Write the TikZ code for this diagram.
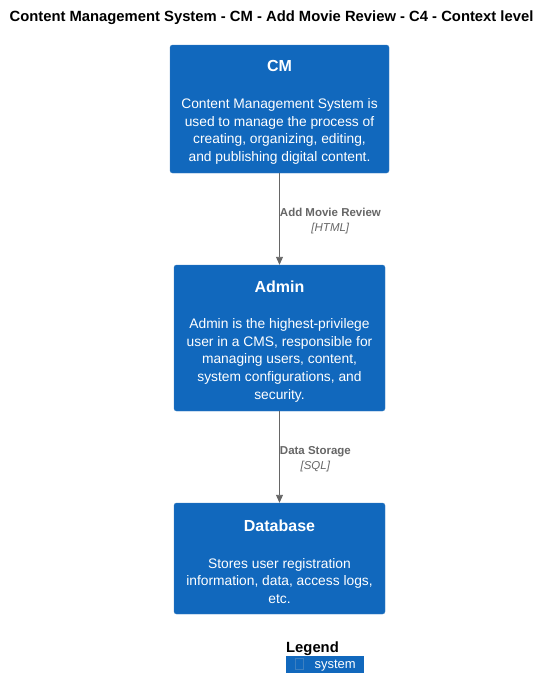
\documentclass[tikz,border=0pt]{standalone}
\usepackage{fontspec}
\setmainfont{Liberation Sans}
\usepackage{xcolor}
\usetikzlibrary{arrows.meta,positioning}

\definecolor{sysblue}{HTML}{1168BD}
\definecolor{sysborder}{HTML}{3C7FC0}
\definecolor{relgray}{HTML}{666666}

\tikzset{
  sysbox/.style={draw=sysborder, fill=sysblue, rounded corners=2.5pt, text=white,
    align=center, inner sep=0pt, font=\fontsize{13.8}{17.6}\selectfont},
  rel/.style={draw=relgray, line width=0.9pt, -{Triangle[width=7pt,length=8pt]}},
  rellabel/.style={text=relgray, align=center, anchor=west, inner sep=0pt, yshift=-2pt,
    font=\fontsize{11.5}{15}\selectfont},
}

\newcommand{\boxtitle}[1]{{\fontsize{16}{20}\selectfont\bfseries\rule{0pt}{18pt}#1}\\[19pt]}

\begin{document}
\begin{tikzpicture}[x=1pt,y=-1pt]
\useasboundingbox (0,0) rectangle (550,699);

% Title
\node[font=\fontsize{14.8}{17}\selectfont\bfseries] (title) at (271.5,18)
  {Content Management System - CM - Add Movie Review - C4 - Context level};

% Systems
\node[sysbox, minimum width=219pt, minimum height=128pt] (cm) at (279.5,109)
  {\boxtitle{CM}Content Management System is\\used to manage the process of\\creating, organizing, editing,\\and publishing digital content.};
\node[sysbox, minimum width=211pt, minimum height=146pt] (admin) at (279.5,338)
  {\boxtitle{Admin}Admin is the highest-privilege\\user in a CMS, responsible for\\managing users, content,\\system configurations, and\\security.};
\node[sysbox, minimum width=211pt, minimum height=111pt] (db) at (279.5,558.5)
  {\boxtitle{Database}Stores user registration\\information, data, access logs,\\etc.};

% Relations
\draw[rel] (cm) -- node[rellabel] {\textbf{Add Movie Review}\\\textit{[HTML]}} (admin);
\draw[rel] (admin) -- node[rellabel] {\textbf{Data Storage}\\\textit{[SQL]}} (db);

% Legend
\node[anchor=south west, inner sep=0pt, font=\fontsize{14.8}{17}\selectfont\bfseries] (legend) at (286,656) {Legend};
\node[anchor=north west, fill=sysblue, text=white, minimum width=78pt, minimum height=17pt,
  inner sep=0pt, font=\fontsize{13}{15}\selectfont] (legsys) at (286,656)
  {{\color{sysborder}\setlength{\fboxsep}{0pt}\fbox{\rule{0pt}{10pt}\hspace{8pt}}}\hspace{11pt}system\hspace{8pt}};

\end{tikzpicture}
\end{document}
